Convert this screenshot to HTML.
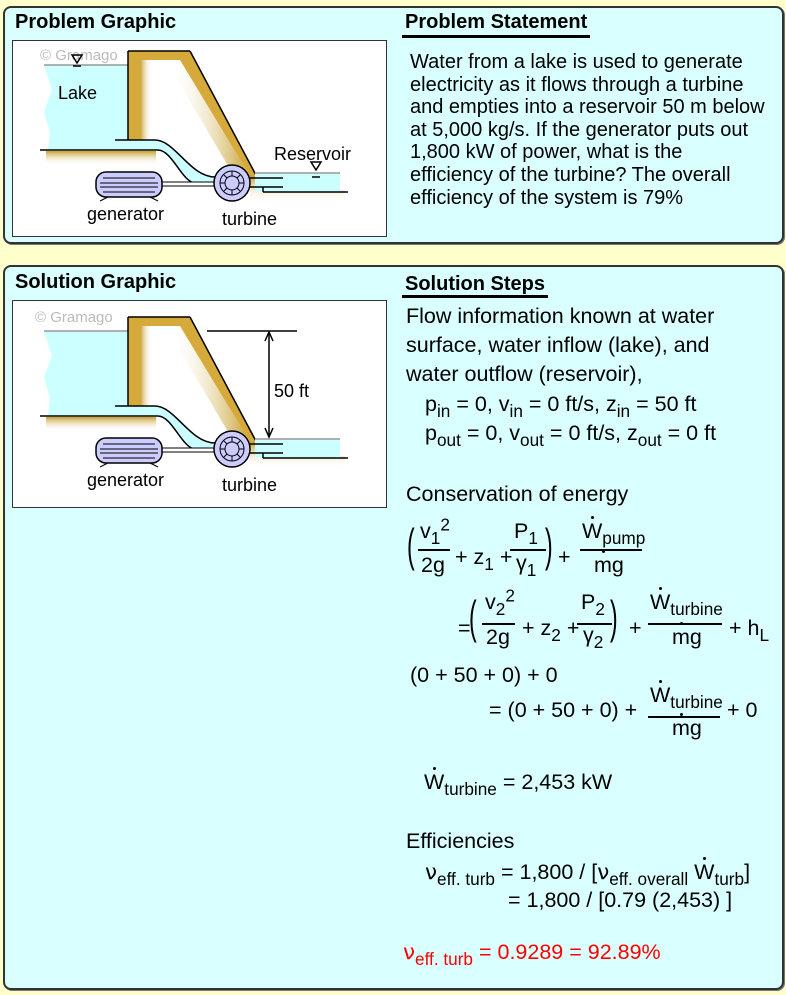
<!DOCTYPE html>
<html><head><meta charset="utf-8">
<style>
body{margin:0;width:786px;height:995px;background:#ffffcc;position:relative;overflow:hidden;font-family:"Liberation Sans",Arial,sans-serif;color:#000}
.panel{position:absolute;background:#d9ffff;border:2px solid #333;border-radius:8px;box-shadow:1px 1px 0 #777}
.box{position:absolute;background:#fff;border:1.5px solid #333}
.t{position:absolute;white-space:nowrap;line-height:1;z-index:3}
.h{font-weight:bold;font-size:20px}
.ul{position:absolute;height:3px;background:#000}
.s{font-size:21.5px}
sub{font-size:0.8em;vertical-align:-0.35em;line-height:0}
sup{font-size:0.8em;vertical-align:0.45em;line-height:0}
.fl{position:absolute;height:1.5px;background:#000;z-index:3}
.d{position:relative}
.d::before{content:"";position:absolute;width:3px;height:3px;border-radius:50%;background:#000;left:42%;top:-3px}
.red{color:#ff0000}
.p{position:absolute;font-size:46px;transform:scaleX(0.5);transform-origin:left;line-height:1;z-index:3}
svg.sc{position:absolute;left:0;top:0;z-index:2}
</style></head><body>
<div class="panel" style="left:3px;top:6px;width:777px;height:234px"></div>
<div class="panel" style="left:3px;top:265px;width:777px;height:721px"></div>
<div class="box" style="left:12px;top:40px;width:373px;height:195px"></div>
<div class="box" style="left:12px;top:300px;width:373px;height:206px"></div>

<div class="t h" style="left:15px;top:12px">Problem Graphic</div>
<div class="t h" style="left:405px;top:12px">Problem Statement</div>
<div class="ul" style="left:402px;top:35px;width:188px"></div>
<div class="t h" style="left:15px;top:272px">Solution Graphic</div>
<div class="t h" style="left:405px;top:274px">Solution Steps</div>
<div class="ul" style="left:402px;top:295px;width:146px"></div>

<div class="t" style="left:410px;top:51px;font-size:20px;line-height:22.6px">Water from a lake is used to generate<br>electricity as it flows through a turbine<br>and empties into a reservoir 50 m below<br>at 5,000 kg/s. If the generator puts out<br>1,800 kW of power, what is the<br>efficiency of the turbine? The overall<br>efficiency of the system is 79%</div>

<svg class="sc" width="786" height="995" viewBox="0 0 786 995" xmlns="http://www.w3.org/2000/svg">
<defs>
<linearGradient id="g1" x1="0" y1="0" x2="1" y2="0"><stop offset="0" stop-color="#c8a030"/><stop offset="1" stop-color="#ffffff" stop-opacity="0"/></linearGradient>
<linearGradient id="g2" x1="0" y1="0" x2="0" y2="1"><stop offset="0" stop-color="#c8a030"/><stop offset="1" stop-color="#ffffff" stop-opacity="0"/></linearGradient>
<linearGradient id="g3" x1="1" y1="0" x2="0" y2="0"><stop offset="0" stop-color="#c8a030"/><stop offset="1" stop-color="#ffffff" stop-opacity="0"/></linearGradient>
</defs>
<g transform="translate(0,0)">
<polygon points="44,65 128,65 128,150 48,150 50,132 44,112 52,90" fill="#ccffff"/>
<line x1="44" y1="65" x2="128" y2="65" stroke="#999" stroke-width="1.5"/>
<rect x="46" y="151" width="110" height="14" fill="url(#g2)"/>
<polygon points="128,51 190,51 256,176 250,176 180,60 140,60 140,140 128,140" fill="#d6aa3a"/>
<polygon points="140,60 152,60 152,140 140,140" fill="url(#g1)"/>
<polygon points="180,60 250,176 234,176 168,64" fill="url(#g3)"/>
<polygon points="250,176 263,176 263,190 345,190 345,202 250,202" fill="url(#g2)"/>
<line x1="128" y1="51" x2="190" y2="51" stroke="#000" stroke-width="1.5"/>
<line x1="128" y1="51" x2="128" y2="140" stroke="#000" stroke-width="1.5"/>
<line x1="190" y1="51" x2="257" y2="177" stroke="#000" stroke-width="1.5"/>
<path d="M115,140 L155,140 C175,140 190,177 215,177 L215,186 L195,186 C180,176 170,150 155,150 L40,150 Z" fill="#ccffff"/>
<path d="M115,140 L155,140 C175,140 190,177 215,177" fill="none" stroke="#000" stroke-width="1.5"/>
<path d="M40,150 L158,150 C172,150 182,182 195,183" fill="none" stroke="#000" stroke-width="1.5"/>
<rect x="255" y="173" width="85" height="19" fill="#ccffff"/>
<line x1="255" y1="173" x2="340" y2="173" stroke="#999" stroke-width="1.5"/>
<line x1="249" y1="178" x2="283" y2="178" stroke="#000" stroke-width="1.5"/>
<line x1="249" y1="187" x2="283" y2="187" stroke="#000" stroke-width="1.5"/>
<line x1="263" y1="187" x2="263" y2="192" stroke="#000" stroke-width="1.5"/>
<line x1="263" y1="192" x2="348" y2="192" stroke="#000" stroke-width="1.5"/>
<rect x="160" y="182" width="55" height="4" fill="#fff" stroke="#000" stroke-width="1"/>
<circle cx="232" cy="183" r="18" fill="#ccccff" stroke="#000" stroke-width="1.5"/>
<circle cx="232" cy="183" r="12" fill="#ccccff" stroke="#000" stroke-width="1"/>
<circle cx="232" cy="183" r="7" fill="#ccccff" stroke="#000" stroke-width="1"/>
<g stroke="#000" stroke-width="1"><line x1="232" y1="171" x2="232" y2="176"/><line x1="232" y1="190" x2="232" y2="195"/><line x1="220" y1="183" x2="225" y2="183"/><line x1="239" y1="183" x2="244" y2="183"/><line x1="224" y1="175" x2="227" y2="178"/><line x1="237" y1="188" x2="240" y2="191"/><line x1="240" y1="175" x2="237" y2="178"/><line x1="224" y1="191" x2="227" y2="188"/></g>
<rect x="96" y="172" width="66" height="25" rx="10" fill="#ccccff" stroke="#000" stroke-width="1.5"/>
<g stroke="#000" stroke-width="1"><line x1="103" y1="178" x2="155" y2="178"/><line x1="100" y1="183" x2="158" y2="183"/><line x1="100" y1="187" x2="158" y2="187"/><line x1="103" y1="192" x2="155" y2="192"/>
<line x1="108" y1="197" x2="100" y2="201"/><line x1="150" y1="197" x2="158" y2="201"/></g>
</g>
<g transform="translate(0,266)">
<polygon points="44,65 128,65 128,150 48,150 50,132 44,112 52,90" fill="#ccffff"/>
<line x1="44" y1="65" x2="128" y2="65" stroke="#999" stroke-width="1.5"/>
<rect x="46" y="151" width="110" height="14" fill="url(#g2)"/>
<polygon points="128,51 190,51 256,176 250,176 180,60 140,60 140,140 128,140" fill="#d6aa3a"/>
<polygon points="140,60 152,60 152,140 140,140" fill="url(#g1)"/>
<polygon points="180,60 250,176 234,176 168,64" fill="url(#g3)"/>
<polygon points="250,176 263,176 263,190 345,190 345,202 250,202" fill="url(#g2)"/>
<line x1="128" y1="51" x2="190" y2="51" stroke="#000" stroke-width="1.5"/>
<line x1="128" y1="51" x2="128" y2="140" stroke="#000" stroke-width="1.5"/>
<line x1="190" y1="51" x2="257" y2="177" stroke="#000" stroke-width="1.5"/>
<path d="M115,140 L155,140 C175,140 190,177 215,177 L215,186 L195,186 C180,176 170,150 155,150 L40,150 Z" fill="#ccffff"/>
<path d="M115,140 L155,140 C175,140 190,177 215,177" fill="none" stroke="#000" stroke-width="1.5"/>
<path d="M40,150 L158,150 C172,150 182,182 195,183" fill="none" stroke="#000" stroke-width="1.5"/>
<rect x="255" y="173" width="85" height="19" fill="#ccffff"/>
<line x1="255" y1="173" x2="340" y2="173" stroke="#999" stroke-width="1.5"/>
<line x1="249" y1="178" x2="283" y2="178" stroke="#000" stroke-width="1.5"/>
<line x1="249" y1="187" x2="283" y2="187" stroke="#000" stroke-width="1.5"/>
<line x1="263" y1="187" x2="263" y2="192" stroke="#000" stroke-width="1.5"/>
<line x1="263" y1="192" x2="348" y2="192" stroke="#000" stroke-width="1.5"/>
<rect x="160" y="182" width="55" height="4" fill="#fff" stroke="#000" stroke-width="1"/>
<circle cx="232" cy="183" r="18" fill="#ccccff" stroke="#000" stroke-width="1.5"/>
<circle cx="232" cy="183" r="12" fill="#ccccff" stroke="#000" stroke-width="1"/>
<circle cx="232" cy="183" r="7" fill="#ccccff" stroke="#000" stroke-width="1"/>
<g stroke="#000" stroke-width="1"><line x1="232" y1="171" x2="232" y2="176"/><line x1="232" y1="190" x2="232" y2="195"/><line x1="220" y1="183" x2="225" y2="183"/><line x1="239" y1="183" x2="244" y2="183"/><line x1="224" y1="175" x2="227" y2="178"/><line x1="237" y1="188" x2="240" y2="191"/><line x1="240" y1="175" x2="237" y2="178"/><line x1="224" y1="191" x2="227" y2="188"/></g>
<rect x="96" y="172" width="66" height="25" rx="10" fill="#ccccff" stroke="#000" stroke-width="1.5"/>
<g stroke="#000" stroke-width="1"><line x1="103" y1="178" x2="155" y2="178"/><line x1="100" y1="183" x2="158" y2="183"/><line x1="100" y1="187" x2="158" y2="187"/><line x1="103" y1="192" x2="155" y2="192"/>
<line x1="108" y1="197" x2="100" y2="201"/><line x1="150" y1="197" x2="158" y2="201"/></g>
</g>
<text x="40" y="60" font-size="15" fill="#bbb" font-family="Liberation Sans, sans-serif">© Gramago</text>
<text x="35" y="322" font-size="15" fill="#bbb" font-family="Liberation Sans, sans-serif">© Gramago</text>
<g fill="none" stroke="#000" stroke-width="1.5"><path d="M72,55 L82,55 L77,63 Z"/><line x1="73" y1="66" x2="81" y2="66"/>
<path d="M311,162 L321,162 L316,170 Z"/><line x1="312" y1="177" x2="320" y2="177"/></g>
<line x1="207" y1="331" x2="297" y2="331" stroke="#000" stroke-width="1.5"/>
<line x1="269" y1="333" x2="269" y2="437" stroke="#000" stroke-width="1.5"/>
<path d="M265,341 L269,332 L273,341 M265,428 L269,437 L273,428" fill="none" stroke="#000" stroke-width="1.5"/>
<g font-family="Liberation Sans, sans-serif" font-size="18">
<text x="58" y="99">Lake</text><text x="274" y="160">Reservoir</text>
<text x="87" y="220">generator</text><text x="222" y="225">turbine</text>
<text x="274" y="397">50 ft</text>
<text x="87" y="486">generator</text><text x="222" y="491">turbine</text>
</g>
</svg>

<div class="t s" style="left:406px;top:302px;line-height:29px">Flow information known at water<br>surface, water inflow (lake), and<br>water outflow (reservoir),</div>
<div class="t s" style="left:425px;top:394px">p<sub>in</sub> = 0, v<sub>in</sub> = 0 ft/s, z<sub>in</sub> = 50 ft</div>
<div class="t s" style="left:425px;top:423px">p<sub>out</sub> = 0, v<sub>out</sub> = 0 ft/s, z<sub>out</sub> = 0 ft</div>
<div class="t s" style="left:406px;top:484px">Conservation of energy</div>

<!-- eq 1 -->
<div class="p" style="left:407px;top:522px">(</div>
<div class="t s" style="left:420px;top:521px">v<sub>1</sub><sup>2</sup></div>
<div class="fl" style="left:418px;top:549px;width:32px"></div>
<div class="t s" style="left:421px;top:555px">2g</div>
<div class="t s" style="left:455px;top:547px">+ z<sub>1</sub> +</div>
<div class="t s" style="left:514px;top:521px">P<sub>1</sub></div>
<div class="fl" style="left:510px;top:549px;width:36px"></div>
<div class="t s" style="left:516px;top:553px">γ<sub>1</sub></div>
<div class="p" style="left:545px;top:522px">)</div>
<div class="t s" style="left:558px;top:547px">+</div>
<div class="t s" style="left:582px;top:521px"><span class="d">W</span><sub>pump</sub></div>
<div class="fl" style="left:580px;top:549px;width:62px"></div>
<div class="t s" style="left:594px;top:555px"><span class="d">m</span>g</div>

<!-- eq 2 -->
<div class="t s" style="left:458px;top:618px">=</div>
<div class="p" style="left:469px;top:594px">(</div>
<div class="t s" style="left:485px;top:592px">v<sub>2</sub><sup>2</sup></div>
<div class="fl" style="left:482px;top:623px;width:33px"></div>
<div class="t s" style="left:486px;top:627px">2g</div>
<div class="t s" style="left:522px;top:618px">+ z<sub>2</sub> +</div>
<div class="t s" style="left:581px;top:592px">P<sub>2</sub></div>
<div class="fl" style="left:577px;top:623px;width:35px"></div>
<div class="t s" style="left:583px;top:625px">γ<sub>2</sub></div>
<div class="p" style="left:610px;top:594px">)</div>
<div class="t s" style="left:629px;top:618px">+</div>
<div class="t s" style="left:650px;top:592px"><span class="d">W</span><sub>turbine</sub></div>
<div class="fl" style="left:648px;top:623px;width:74px"></div>
<div class="t s" style="left:672px;top:627px"><span class="d">m</span>g</div>
<div class="t s" style="left:729px;top:618px">+ h<sub>L</sub></div>

<!-- eq 3 -->
<div class="t s" style="left:410px;top:665px">(0 + 50 + 0) + 0</div>
<div class="t s" style="left:489px;top:700px">= (0 + 50 + 0) +</div>
<div class="t s" style="left:650px;top:685px"><span class="d">W</span><sub>turbine</sub></div>
<div class="fl" style="left:648px;top:716px;width:72px"></div>
<div class="t s" style="left:672px;top:718px"><span class="d">m</span>g</div>
<div class="t s" style="left:727px;top:700px">+ 0</div>

<div class="t s" style="left:424px;top:772px"><span class="d">W</span><sub>turbine</sub> = 2,453 kW</div>
<div class="t s" style="left:406px;top:831px">Efficiencies</div>
<div class="t s" style="left:425px;top:862px"><span style="font-family:'DejaVu Sans'">ν</span><sub>eff. turb</sub> = 1,800 / [<span style="font-family:'DejaVu Sans'">ν</span><sub>eff. overall</sub> <span class="d">W</span><sub>turb</sub>]</div>
<div class="t s" style="left:508px;top:890px">= 1,800 / [0.79 (2,453) ]</div>
<div class="t s red" style="left:403px;top:942px"><span style="font-family:'DejaVu Sans'">ν</span><sub>eff. turb</sub> = 0.9289 = 92.89%</div>
</body></html>
